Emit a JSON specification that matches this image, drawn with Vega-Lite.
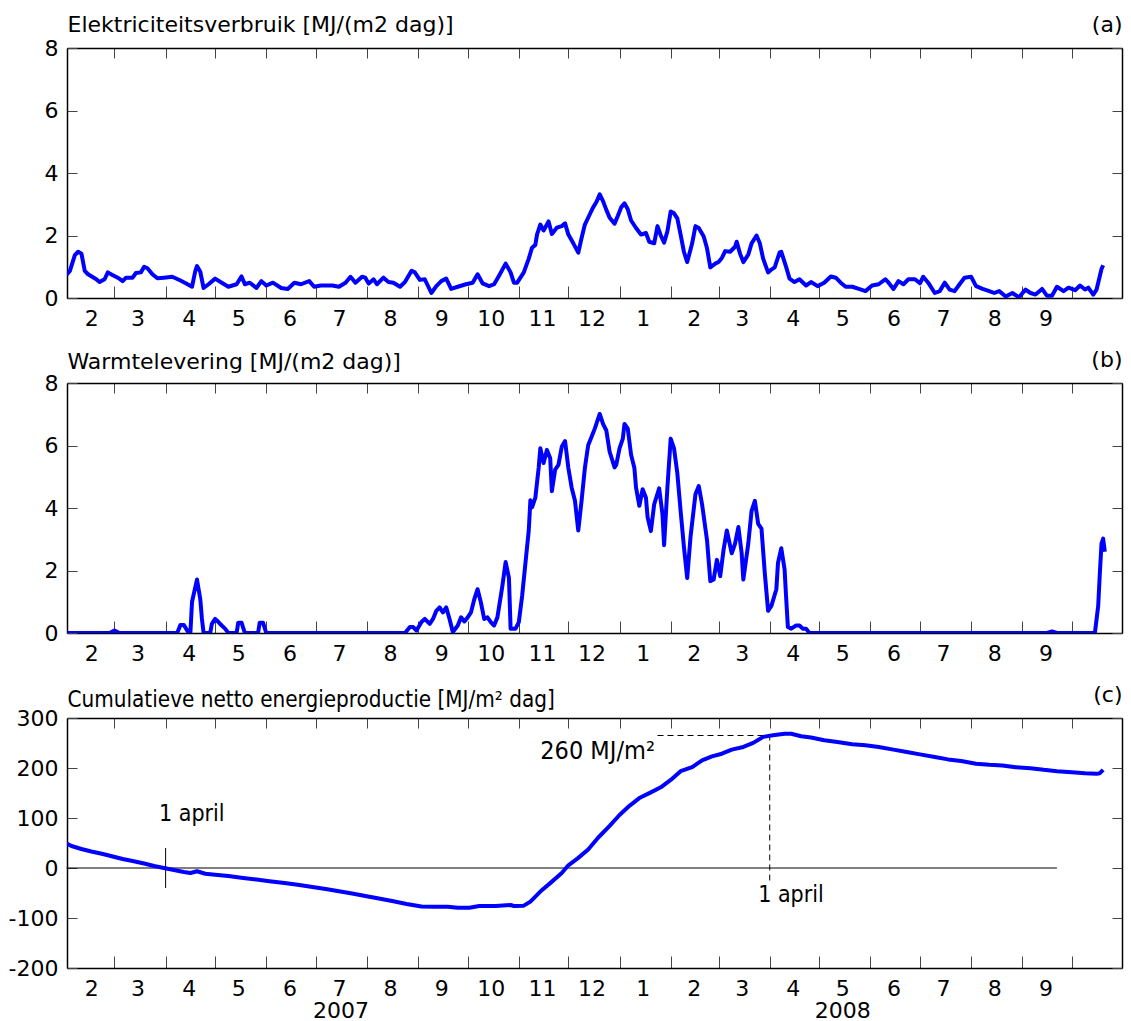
{
  "$schema": "https://vega.github.io/schema/vega-lite/v6.json",
  "padding": {"left": 8, "top": 13, "right": 6, "bottom": 0},
  "background": "white",
  "config": {
    "view": {"stroke": null},
    "axis": {
      "labelFont": "DejaVu Sans", "labelFontSize": 22, "labelColor": "black",
      "titleFont": "DejaVu Sans", "titleFontSize": 22, "titleFontWeight": "normal", "titleColor": "black",
      "domainColor": "black", "domainWidth": 1.5, "tickColor": "#444", "tickWidth": 1,
      "grid": false, "labelFlush": false, "labelOverlap": false, "labelBound": false
    }
  },
  "datasets": {
    "elek": [
      {"date":"2007-01-31","value":0.75},{"date":"2007-02-02","value":0.87},{"date":"2007-02-05","value":1.37},{"date":"2007-02-07","value":1.48},{"date":"2007-02-09","value":1.42},{"date":"2007-02-11","value":0.87},{"date":"2007-02-13","value":0.76},{"date":"2007-02-18","value":0.6},{"date":"2007-02-20","value":0.51},{"date":"2007-02-23","value":0.6},{"date":"2007-02-25","value":0.82},{"date":"2007-02-28","value":0.73},{"date":"2007-03-03","value":0.65},{"date":"2007-03-06","value":0.54},{"date":"2007-03-08","value":0.65},{"date":"2007-03-12","value":0.65},{"date":"2007-03-14","value":0.8},{"date":"2007-03-17","value":0.82},{"date":"2007-03-19","value":1.0},{"date":"2007-03-21","value":0.95},{"date":"2007-03-24","value":0.76},{"date":"2007-03-27","value":0.63},{"date":"2007-03-31","value":0.65},{"date":"2007-04-05","value":0.68},{"date":"2007-04-10","value":0.56},{"date":"2007-04-14","value":0.45},{"date":"2007-04-17","value":0.36},{"date":"2007-04-19","value":0.87},{"date":"2007-04-20","value":1.02},{"date":"2007-04-22","value":0.84},{"date":"2007-04-24","value":0.32},{"date":"2007-04-27","value":0.44},{"date":"2007-05-01","value":0.62},{"date":"2007-05-05","value":0.49},{"date":"2007-05-09","value":0.36},{"date":"2007-05-14","value":0.44},{"date":"2007-05-17","value":0.69},{"date":"2007-05-19","value":0.44},{"date":"2007-05-22","value":0.49},{"date":"2007-05-26","value":0.32},{"date":"2007-05-29","value":0.54},{"date":"2007-06-01","value":0.4},{"date":"2007-06-05","value":0.49},{"date":"2007-06-10","value":0.32},{"date":"2007-06-14","value":0.29},{"date":"2007-06-18","value":0.49},{"date":"2007-06-22","value":0.44},{"date":"2007-06-27","value":0.54},{"date":"2007-06-30","value":0.36},{"date":"2007-07-04","value":0.4},{"date":"2007-07-11","value":0.4},{"date":"2007-07-15","value":0.36},{"date":"2007-07-19","value":0.49},{"date":"2007-07-22","value":0.68},{"date":"2007-07-25","value":0.49},{"date":"2007-07-29","value":0.68},{"date":"2007-07-31","value":0.65},{"date":"2007-08-02","value":0.46},{"date":"2007-08-05","value":0.6},{"date":"2007-08-07","value":0.44},{"date":"2007-08-11","value":0.65},{"date":"2007-08-14","value":0.51},{"date":"2007-08-17","value":0.49},{"date":"2007-08-21","value":0.36},{"date":"2007-08-24","value":0.51},{"date":"2007-08-28","value":0.87},{"date":"2007-08-30","value":0.82},{"date":"2007-09-02","value":0.58},{"date":"2007-09-05","value":0.6},{"date":"2007-09-09","value":0.16},{"date":"2007-09-12","value":0.38},{"date":"2007-09-15","value":0.54},{"date":"2007-09-18","value":0.62},{"date":"2007-09-21","value":0.29},{"date":"2007-09-25","value":0.36},{"date":"2007-09-30","value":0.44},{"date":"2007-10-04","value":0.49},{"date":"2007-10-07","value":0.76},{"date":"2007-10-10","value":0.47},{"date":"2007-10-14","value":0.38},{"date":"2007-10-17","value":0.44},{"date":"2007-10-20","value":0.71},{"date":"2007-10-24","value":1.1},{"date":"2007-10-27","value":0.82},{"date":"2007-10-29","value":0.49},{"date":"2007-10-31","value":0.49},{"date":"2007-11-04","value":0.82},{"date":"2007-11-07","value":1.26},{"date":"2007-11-09","value":1.61},{"date":"2007-11-11","value":1.7},{"date":"2007-11-12","value":2.03},{"date":"2007-11-14","value":2.35},{"date":"2007-11-16","value":2.16},{"date":"2007-11-19","value":2.45},{"date":"2007-11-21","value":2.05},{"date":"2007-11-24","value":2.25},{"date":"2007-11-27","value":2.3},{"date":"2007-11-29","value":2.39},{"date":"2007-12-01","value":2.03},{"date":"2007-12-04","value":1.75},{"date":"2007-12-07","value":1.45},{"date":"2007-12-09","value":1.92},{"date":"2007-12-11","value":2.35},{"date":"2007-12-14","value":2.68},{"date":"2007-12-16","value":2.9},{"date":"2007-12-18","value":3.07},{"date":"2007-12-20","value":3.32},{"date":"2007-12-22","value":3.1},{"date":"2007-12-24","value":2.82},{"date":"2007-12-26","value":2.57},{"date":"2007-12-29","value":2.38},{"date":"2007-12-31","value":2.63},{"date":"2008-01-02","value":2.9},{"date":"2008-01-04","value":3.03},{"date":"2008-01-06","value":2.84},{"date":"2008-01-08","value":2.48},{"date":"2008-01-11","value":2.24},{"date":"2008-01-14","value":2.03},{"date":"2008-01-17","value":2.08},{"date":"2008-01-19","value":1.8},{"date":"2008-01-22","value":1.75},{"date":"2008-01-24","value":2.3},{"date":"2008-01-26","value":2.0},{"date":"2008-01-28","value":1.77},{"date":"2008-01-30","value":2.13},{"date":"2008-02-01","value":2.77},{"date":"2008-02-03","value":2.71},{"date":"2008-02-05","value":2.55},{"date":"2008-02-07","value":2.03},{"date":"2008-02-09","value":1.48},{"date":"2008-02-11","value":1.15},{"date":"2008-02-14","value":1.75},{"date":"2008-02-16","value":2.3},{"date":"2008-02-18","value":2.24},{"date":"2008-02-21","value":1.97},{"date":"2008-02-23","value":1.59},{"date":"2008-02-25","value":0.98},{"date":"2008-02-28","value":1.1},{"date":"2008-03-01","value":1.15},{"date":"2008-03-03","value":1.28},{"date":"2008-03-05","value":1.5},{"date":"2008-03-08","value":1.48},{"date":"2008-03-11","value":1.64},{"date":"2008-03-12","value":1.8},{"date":"2008-03-14","value":1.42},{"date":"2008-03-16","value":1.15},{"date":"2008-03-19","value":1.39},{"date":"2008-03-21","value":1.75},{"date":"2008-03-24","value":2.0},{"date":"2008-03-26","value":1.75},{"date":"2008-03-28","value":1.26},{"date":"2008-03-31","value":0.82},{"date":"2008-04-02","value":0.91},{"date":"2008-04-04","value":0.98},{"date":"2008-04-07","value":1.46},{"date":"2008-04-08","value":1.48},{"date":"2008-04-11","value":0.98},{"date":"2008-04-13","value":0.62},{"date":"2008-04-16","value":0.51},{"date":"2008-04-19","value":0.6},{"date":"2008-04-23","value":0.4},{"date":"2008-04-26","value":0.51},{"date":"2008-04-30","value":0.38},{"date":"2008-05-04","value":0.49},{"date":"2008-05-08","value":0.69},{"date":"2008-05-11","value":0.65},{"date":"2008-05-14","value":0.49},{"date":"2008-05-17","value":0.36},{"date":"2008-05-21","value":0.36},{"date":"2008-05-25","value":0.29},{"date":"2008-05-29","value":0.22},{"date":"2008-06-02","value":0.4},{"date":"2008-06-06","value":0.44},{"date":"2008-06-10","value":0.6},{"date":"2008-06-12","value":0.49},{"date":"2008-06-15","value":0.29},{"date":"2008-06-18","value":0.54},{"date":"2008-06-21","value":0.44},{"date":"2008-06-24","value":0.6},{"date":"2008-06-28","value":0.6},{"date":"2008-07-01","value":0.47},{"date":"2008-07-03","value":0.68},{"date":"2008-07-06","value":0.49},{"date":"2008-07-10","value":0.16},{"date":"2008-07-13","value":0.22},{"date":"2008-07-16","value":0.49},{"date":"2008-07-19","value":0.27},{"date":"2008-07-22","value":0.22},{"date":"2008-07-25","value":0.44},{"date":"2008-07-28","value":0.65},{"date":"2008-08-01","value":0.68},{"date":"2008-08-04","value":0.38},{"date":"2008-08-08","value":0.29},{"date":"2008-08-12","value":0.22},{"date":"2008-08-15","value":0.16},{"date":"2008-08-18","value":0.22},{"date":"2008-08-22","value":0.05},{"date":"2008-08-26","value":0.16},{"date":"2008-08-30","value":0.02},{"date":"2008-09-03","value":0.27},{"date":"2008-09-06","value":0.16},{"date":"2008-09-09","value":0.11},{"date":"2008-09-13","value":0.29},{"date":"2008-09-16","value":0.07},{"date":"2008-09-19","value":0.07},{"date":"2008-09-22","value":0.36},{"date":"2008-09-26","value":0.22},{"date":"2008-09-29","value":0.33},{"date":"2008-10-03","value":0.25},{"date":"2008-10-06","value":0.4},{"date":"2008-10-09","value":0.27},{"date":"2008-10-11","value":0.33},{"date":"2008-10-14","value":0.11},{"date":"2008-10-16","value":0.27},{"date":"2008-10-19","value":0.93},{"date":"2008-10-20","value":1.05}
    ],
    "warmte": [
      {"date":"2007-01-31","value":0},{"date":"2007-02-26","value":0},{"date":"2007-03-01","value":0.08},{"date":"2007-03-04","value":0},{"date":"2007-04-08","value":0},{"date":"2007-04-10","value":0.26},{"date":"2007-04-12","value":0.26},{"date":"2007-04-15","value":0},{"date":"2007-04-16","value":0},{"date":"2007-04-17","value":1.0},{"date":"2007-04-20","value":1.71},{"date":"2007-04-22","value":1.08},{"date":"2007-04-23","value":0.45},{"date":"2007-04-24","value":0},{"date":"2007-04-28","value":0},{"date":"2007-04-29","value":0.29},{"date":"2007-05-01","value":0.45},{"date":"2007-05-03","value":0.35},{"date":"2007-05-05","value":0.24},{"date":"2007-05-07","value":0.14},{"date":"2007-05-09","value":0},{"date":"2007-05-14","value":0},{"date":"2007-05-15","value":0.33},{"date":"2007-05-17","value":0.33},{"date":"2007-05-19","value":0},{"date":"2007-05-27","value":0},{"date":"2007-05-28","value":0.33},{"date":"2007-05-30","value":0.33},{"date":"2007-06-01","value":0},{"date":"2007-08-24","value":0},{"date":"2007-08-27","value":0.19},{"date":"2007-08-29","value":0.19},{"date":"2007-08-31","value":0.08},{"date":"2007-09-03","value":0.35},{"date":"2007-09-05","value":0.45},{"date":"2007-09-08","value":0.29},{"date":"2007-09-10","value":0.45},{"date":"2007-09-12","value":0.71},{"date":"2007-09-14","value":0.82},{"date":"2007-09-16","value":0.66},{"date":"2007-09-18","value":0.82},{"date":"2007-09-20","value":0.45},{"date":"2007-09-22","value":0.03},{"date":"2007-09-25","value":0.24},{"date":"2007-09-27","value":0.5},{"date":"2007-09-29","value":0.37},{"date":"2007-10-01","value":0.5},{"date":"2007-10-03","value":0.66},{"date":"2007-10-05","value":1.08},{"date":"2007-10-07","value":1.4},{"date":"2007-10-09","value":0.98},{"date":"2007-10-11","value":0.45},{"date":"2007-10-13","value":0.5},{"date":"2007-10-15","value":0.35},{"date":"2007-10-17","value":0.24},{"date":"2007-10-19","value":0.5},{"date":"2007-10-22","value":1.5},{"date":"2007-10-24","value":2.27},{"date":"2007-10-26","value":1.76},{"date":"2007-10-27","value":0.14},{"date":"2007-10-30","value":0.14},{"date":"2007-11-01","value":0.35},{"date":"2007-11-03","value":1.19},{"date":"2007-11-05","value":2.24},{"date":"2007-11-07","value":3.28},{"date":"2007-11-08","value":4.25},{"date":"2007-11-09","value":4.02},{"date":"2007-11-11","value":4.33},{"date":"2007-11-13","value":5.28},{"date":"2007-11-14","value":5.91},{"date":"2007-11-16","value":5.44},{"date":"2007-11-18","value":5.86},{"date":"2007-11-20","value":5.59},{"date":"2007-11-21","value":4.54},{"date":"2007-11-23","value":5.23},{"date":"2007-11-25","value":5.38},{"date":"2007-11-27","value":5.96},{"date":"2007-11-29","value":6.14},{"date":"2007-12-01","value":5.28},{"date":"2007-12-03","value":4.65},{"date":"2007-12-05","value":4.23},{"date":"2007-12-07","value":3.28},{"date":"2007-12-09","value":4.23},{"date":"2007-12-11","value":5.28},{"date":"2007-12-13","value":6.01},{"date":"2007-12-15","value":6.27},{"date":"2007-12-17","value":6.54},{"date":"2007-12-20","value":7.01},{"date":"2007-12-22","value":6.69},{"date":"2007-12-24","value":6.48},{"date":"2007-12-26","value":5.8},{"date":"2007-12-29","value":5.3},{"date":"2007-12-30","value":5.38},{"date":"2008-01-01","value":5.91},{"date":"2008-01-03","value":6.22},{"date":"2008-01-04","value":6.69},{"date":"2008-01-06","value":6.54},{"date":"2008-01-08","value":5.7},{"date":"2008-01-10","value":5.28},{"date":"2008-01-11","value":4.65},{"date":"2008-01-13","value":4.07},{"date":"2008-01-15","value":4.6},{"date":"2008-01-17","value":4.33},{"date":"2008-01-18","value":3.7},{"date":"2008-01-20","value":3.26},{"date":"2008-01-22","value":4.12},{"date":"2008-01-25","value":4.63},{"date":"2008-01-27","value":3.81},{"date":"2008-01-28","value":2.81},{"date":"2008-01-30","value":4.65},{"date":"2008-02-01","value":6.22},{"date":"2008-02-03","value":5.91},{"date":"2008-02-05","value":5.12},{"date":"2008-02-07","value":3.91},{"date":"2008-02-09","value":2.76},{"date":"2008-02-11","value":1.76},{"date":"2008-02-13","value":3.07},{"date":"2008-02-16","value":4.44},{"date":"2008-02-18","value":4.7},{"date":"2008-02-20","value":4.12},{"date":"2008-02-23","value":2.97},{"date":"2008-02-25","value":1.66},{"date":"2008-02-27","value":1.71},{"date":"2008-02-29","value":2.34},{"date":"2008-03-02","value":1.82},{"date":"2008-03-04","value":2.65},{"date":"2008-03-06","value":3.28},{"date":"2008-03-09","value":2.55},{"date":"2008-03-11","value":2.86},{"date":"2008-03-13","value":3.39},{"date":"2008-03-15","value":2.55},{"date":"2008-03-16","value":1.71},{"date":"2008-03-19","value":2.86},{"date":"2008-03-21","value":3.91},{"date":"2008-03-23","value":4.23},{"date":"2008-03-25","value":3.49},{"date":"2008-03-27","value":3.34},{"date":"2008-03-29","value":1.92},{"date":"2008-03-31","value":0.71},{"date":"2008-04-02","value":0.87},{"date":"2008-04-05","value":1.4},{"date":"2008-04-06","value":2.24},{"date":"2008-04-08","value":2.71},{"date":"2008-04-10","value":2.03},{"date":"2008-04-11","value":1.08},{"date":"2008-04-12","value":0.19},{"date":"2008-04-14","value":0.14},{"date":"2008-04-17","value":0.24},{"date":"2008-04-19","value":0.24},{"date":"2008-04-21","value":0.14},{"date":"2008-04-23","value":0.14},{"date":"2008-04-25","value":0},{"date":"2008-09-16","value":0},{"date":"2008-09-19","value":0.05},{"date":"2008-09-22","value":0},{"date":"2008-10-15","value":0},{"date":"2008-10-17","value":0.87},{"date":"2008-10-18","value":1.92},{"date":"2008-10-19","value":2.86},{"date":"2008-10-20","value":3.02},{"date":"2008-10-21","value":2.6}
    ],
    "cumulatief": [
      {"date":"2007-01-31","value":49},{"date":"2007-02-03","value":44},{"date":"2007-02-09","value":38},{"date":"2007-02-15","value":33},{"date":"2007-02-22","value":28},{"date":"2007-02-28","value":23},{"date":"2007-03-06","value":18},{"date":"2007-03-12","value":14},{"date":"2007-03-19","value":9},{"date":"2007-03-25","value":4},{"date":"2007-03-31","value":0},{"date":"2007-04-06","value":-4},{"date":"2007-04-12","value":-8},{"date":"2007-04-16","value":-10},{"date":"2007-04-20","value":-6.5},{"date":"2007-04-25","value":-11.5},{"date":"2007-05-01","value":-13.5},{"date":"2007-05-09","value":-16},{"date":"2007-05-18","value":-20},{"date":"2007-05-26","value":-23},{"date":"2007-06-03","value":-26.5},{"date":"2007-06-12","value":-30},{"date":"2007-06-20","value":-33.5},{"date":"2007-06-27","value":-37},{"date":"2007-07-07","value":-42},{"date":"2007-07-15","value":-46.5},{"date":"2007-07-23","value":-51},{"date":"2007-07-31","value":-56},{"date":"2007-08-09","value":-61.5},{"date":"2007-08-17","value":-66.5},{"date":"2007-08-25","value":-72},{"date":"2007-09-03","value":-77},{"date":"2007-09-11","value":-77.3},{"date":"2007-09-19","value":-77.3},{"date":"2007-09-25","value":-79.4},{"date":"2007-10-02","value":-79.4},{"date":"2007-10-08","value":-76},{"date":"2007-10-18","value":-76},{"date":"2007-10-27","value":-74},{"date":"2007-10-29","value":-76},{"date":"2007-11-04","value":-75.3},{"date":"2007-11-08","value":-67.2},{"date":"2007-11-14","value":-47.1},{"date":"2007-11-20","value":-30.3},{"date":"2007-11-27","value":-10.1},{"date":"2007-12-01","value":5.4},{"date":"2007-12-07","value":20.2},{"date":"2007-12-13","value":37},{"date":"2007-12-19","value":60.5},{"date":"2007-12-26","value":84.1},{"date":"2008-01-01","value":106},{"date":"2008-01-07","value":124.4},{"date":"2008-01-13","value":139.9},{"date":"2008-01-20","value":151.3},{"date":"2008-01-26","value":161.4},{"date":"2008-02-01","value":176.2},{"date":"2008-02-07","value":193.7},{"date":"2008-02-14","value":201.7},{"date":"2008-02-20","value":215.2},{"date":"2008-02-26","value":223.3},{"date":"2008-03-03","value":228.6},{"date":"2008-03-09","value":236.7},{"date":"2008-03-16","value":242.1},{"date":"2008-03-22","value":250.2},{"date":"2008-03-28","value":262.3},{"date":"2008-04-03","value":265.6},{"date":"2008-04-10","value":268.5},{"date":"2008-04-14","value":268.5},{"date":"2008-04-20","value":263.6},{"date":"2008-04-26","value":260.9},{"date":"2008-05-04","value":255.5},{"date":"2008-05-12","value":252.2},{"date":"2008-05-21","value":247.5},{"date":"2008-05-29","value":245.5},{"date":"2008-06-06","value":242.1},{"date":"2008-06-15","value":236.7},{"date":"2008-06-23","value":232},{"date":"2008-07-01","value":227.3},{"date":"2008-07-10","value":221.9},{"date":"2008-07-18","value":217.2},{"date":"2008-07-26","value":213.9},{"date":"2008-08-04","value":208.5},{"date":"2008-08-12","value":206.5},{"date":"2008-08-20","value":205.1},{"date":"2008-08-28","value":201.7},{"date":"2008-09-06","value":199.7},{"date":"2008-09-14","value":196.4},{"date":"2008-09-22","value":193.7},{"date":"2008-10-01","value":191.7},{"date":"2008-10-09","value":189.6},{"date":"2008-10-16","value":188.3},{"date":"2008-10-18","value":189.6},{"date":"2008-10-20","value":196.4}
    ],
    "lijnen": [
      {"start":"2007-01-31","end":"2008-09-22","low":0,"high":0},
      {"start":"2007-04-01","end":"2007-04-01","low":-40,"high":40}
    ],
    "stippellijnen": [
      {"start":"2008-04-01","end":"2008-04-01","low":-25,"high":265},
      {"start":"2008-01-24","end":"2008-04-01","low":265,"high":265}
    ],
    "datumteksten": [
      {"date":"2007-03-28","value":94,"label":"1 april"},
      {"date":"2008-03-25","value":-68,"label":"1 april"}
    ],
    "piektekst": [
      {"date":"2007-11-14","value":219,"label":"260 MJ/m²"}
    ]
  },
  "spacing": 85,
  "bounds": "flush",
  "vconcat": [
    {
      "width": 1055, "height": 250,
      "layer": [
        {"data": {"name": "elek"}, "mark": {"type": "line", "opacity": 0},
         "encoding": {
           "x": {"field": "date", "type": "temporal", "scale": {"domain": [{"year":2007,"month":1,"date":31,"hours":6,"utc":true},{"year":2008,"month":10,"date":31,"hours":10,"utc":true}]},
                 "axis": {"orient": "bottom", "values": [{"year":2007,"month":3,"date":1,"utc":true},{"year":2007,"month":4,"date":1,"utc":true},{"year":2007,"month":5,"date":1,"utc":true},{"year":2007,"month":6,"date":1,"utc":true},{"year":2007,"month":7,"date":1,"utc":true},{"year":2007,"month":8,"date":1,"utc":true},{"year":2007,"month":9,"date":1,"utc":true},{"year":2007,"month":10,"date":1,"utc":true},{"year":2007,"month":11,"date":1,"utc":true},{"year":2007,"month":12,"date":1,"utc":true},{"year":2008,"month":1,"date":1,"utc":true},{"year":2008,"month":2,"date":1,"utc":true},{"year":2008,"month":3,"date":1,"utc":true},{"year":2008,"month":4,"date":1,"utc":true},{"year":2008,"month":5,"date":1,"utc":true},{"year":2008,"month":6,"date":1,"utc":true},{"year":2008,"month":7,"date":1,"utc":true},{"year":2008,"month":8,"date":1,"utc":true},{"year":2008,"month":9,"date":1,"utc":true},{"year":2008,"month":10,"date":1,"utc":true}], "tickSize": -12, "labels": false, "title": null}},
           "y": {"field": "value", "type": "quantitative", "scale": {"domain": [0, 8]},
                 "axis": {"orient": "left", "values": [0, 2, 4, 6, 8], "tickSize": -10, "labelPadding": 19, "labelExpr": "datum.value + ''", "title": "Elektriciteitsverbruik [MJ/(m2 dag)]", "titleAngle": 0, "titleX": 0, "titleY": -17, "titleAlign": "left", "titleBaseline": "alphabetic"}}
         }},
        {"data": {"name": "elek"}, "mark": {"type": "line", "opacity": 0},
         "encoding": {
           "x": {"field": "date", "type": "temporal", "scale": {"domain": [{"year":2007,"month":1,"date":31,"hours":6,"utc":true},{"year":2008,"month":10,"date":31,"hours":10,"utc":true}]},
                 "axis": {"orient": "bottom", "values": [{"year":2007,"month":2,"date":15,"utc":true},{"year":2007,"month":3,"date":15,"utc":true},{"year":2007,"month":4,"date":15,"utc":true},{"year":2007,"month":5,"date":15,"utc":true},{"year":2007,"month":6,"date":15,"utc":true},{"year":2007,"month":7,"date":15,"utc":true},{"year":2007,"month":8,"date":15,"utc":true},{"year":2007,"month":9,"date":15,"utc":true},{"year":2007,"month":10,"date":15,"utc":true},{"year":2007,"month":11,"date":15,"utc":true},{"year":2007,"month":12,"date":15,"utc":true},{"year":2008,"month":1,"date":15,"utc":true},{"year":2008,"month":2,"date":15,"utc":true},{"year":2008,"month":3,"date":15,"utc":true},{"year":2008,"month":4,"date":15,"utc":true},{"year":2008,"month":5,"date":15,"utc":true},{"year":2008,"month":6,"date":15,"utc":true},{"year":2008,"month":7,"date":15,"utc":true},{"year":2008,"month":8,"date":15,"utc":true},{"year":2008,"month":9,"date":15,"utc":true}], "ticks": false, "domain": false, "labelPadding": 10, "labelExpr": "utcFormat(datum.value, '%-m')", "title": null}},
           "y": {"field": "value", "type": "quantitative", "scale": {"domain": [0, 8]},
                 "axis": {"orient": "right", "values": [0, 2, 4, 6, 8], "tickSize": -10, "labels": false, "title": null}}
         }},
        {"data": {"name": "elek"}, "mark": {"type": "line", "color": "#0000ff", "strokeWidth": 4, "strokeJoin": "round", "clip": true},
         "encoding": {
           "x": {"field": "date", "type": "temporal", "scale": {"domain": [{"year":2007,"month":1,"date":31,"hours":6,"utc":true},{"year":2008,"month":10,"date":31,"hours":10,"utc":true}]},
                 "axis": {"orient": "top", "values": [{"year":2007,"month":3,"date":1,"utc":true},{"year":2007,"month":4,"date":1,"utc":true},{"year":2007,"month":5,"date":1,"utc":true},{"year":2007,"month":6,"date":1,"utc":true},{"year":2007,"month":7,"date":1,"utc":true},{"year":2007,"month":8,"date":1,"utc":true},{"year":2007,"month":9,"date":1,"utc":true},{"year":2007,"month":10,"date":1,"utc":true},{"year":2007,"month":11,"date":1,"utc":true},{"year":2007,"month":12,"date":1,"utc":true},{"year":2008,"month":1,"date":1,"utc":true},{"year":2008,"month":2,"date":1,"utc":true},{"year":2008,"month":3,"date":1,"utc":true},{"year":2008,"month":4,"date":1,"utc":true},{"year":2008,"month":5,"date":1,"utc":true},{"year":2008,"month":6,"date":1,"utc":true},{"year":2008,"month":7,"date":1,"utc":true},{"year":2008,"month":8,"date":1,"utc":true},{"year":2008,"month":9,"date":1,"utc":true},{"year":2008,"month":10,"date":1,"utc":true}], "tickSize": -10, "labels": false, "title": "(a)", "titleX": 1055, "titleY": -17, "titleAlign": "right", "titleBaseline": "alphabetic", "titleAngle": 0}},
           "y": {"field": "value", "type": "quantitative", "scale": {"domain": [0, 8]}, "axis": null}
         }}
      ],
      "resolve": {"axis": {"x": "independent", "y": "independent"}}
    },
    {
      "width": 1055, "height": 250,
      "layer": [
        {"data": {"name": "warmte"}, "mark": {"type": "line", "opacity": 0},
         "encoding": {
           "x": {"field": "date", "type": "temporal", "scale": {"domain": [{"year":2007,"month":1,"date":31,"hours":6,"utc":true},{"year":2008,"month":10,"date":31,"hours":10,"utc":true}]},
                 "axis": {"orient": "bottom", "values": [{"year":2007,"month":3,"date":1,"utc":true},{"year":2007,"month":4,"date":1,"utc":true},{"year":2007,"month":5,"date":1,"utc":true},{"year":2007,"month":6,"date":1,"utc":true},{"year":2007,"month":7,"date":1,"utc":true},{"year":2007,"month":8,"date":1,"utc":true},{"year":2007,"month":9,"date":1,"utc":true},{"year":2007,"month":10,"date":1,"utc":true},{"year":2007,"month":11,"date":1,"utc":true},{"year":2007,"month":12,"date":1,"utc":true},{"year":2008,"month":1,"date":1,"utc":true},{"year":2008,"month":2,"date":1,"utc":true},{"year":2008,"month":3,"date":1,"utc":true},{"year":2008,"month":4,"date":1,"utc":true},{"year":2008,"month":5,"date":1,"utc":true},{"year":2008,"month":6,"date":1,"utc":true},{"year":2008,"month":7,"date":1,"utc":true},{"year":2008,"month":8,"date":1,"utc":true},{"year":2008,"month":9,"date":1,"utc":true},{"year":2008,"month":10,"date":1,"utc":true}], "tickSize": -12, "labels": false, "title": null}},
           "y": {"field": "value", "type": "quantitative", "scale": {"domain": [0, 8]},
                 "axis": {"orient": "left", "values": [0, 2, 4, 6, 8], "tickSize": -10, "labelPadding": 19, "labelExpr": "datum.value + ''", "title": "Warmtelevering [MJ/(m2 dag)]", "titleAngle": 0, "titleX": 0, "titleY": -15, "titleAlign": "left", "titleBaseline": "alphabetic"}}
         }},
        {"data": {"name": "warmte"}, "mark": {"type": "line", "opacity": 0},
         "encoding": {
           "x": {"field": "date", "type": "temporal", "scale": {"domain": [{"year":2007,"month":1,"date":31,"hours":6,"utc":true},{"year":2008,"month":10,"date":31,"hours":10,"utc":true}]},
                 "axis": {"orient": "bottom", "values": [{"year":2007,"month":2,"date":15,"utc":true},{"year":2007,"month":3,"date":15,"utc":true},{"year":2007,"month":4,"date":15,"utc":true},{"year":2007,"month":5,"date":15,"utc":true},{"year":2007,"month":6,"date":15,"utc":true},{"year":2007,"month":7,"date":15,"utc":true},{"year":2007,"month":8,"date":15,"utc":true},{"year":2007,"month":9,"date":15,"utc":true},{"year":2007,"month":10,"date":15,"utc":true},{"year":2007,"month":11,"date":15,"utc":true},{"year":2007,"month":12,"date":15,"utc":true},{"year":2008,"month":1,"date":15,"utc":true},{"year":2008,"month":2,"date":15,"utc":true},{"year":2008,"month":3,"date":15,"utc":true},{"year":2008,"month":4,"date":15,"utc":true},{"year":2008,"month":5,"date":15,"utc":true},{"year":2008,"month":6,"date":15,"utc":true},{"year":2008,"month":7,"date":15,"utc":true},{"year":2008,"month":8,"date":15,"utc":true},{"year":2008,"month":9,"date":15,"utc":true}], "ticks": false, "domain": false, "labelPadding": 10, "labelExpr": "utcFormat(datum.value, '%-m')", "title": null}},
           "y": {"field": "value", "type": "quantitative", "scale": {"domain": [0, 8]},
                 "axis": {"orient": "right", "values": [0, 2, 4, 6, 8], "tickSize": -10, "labels": false, "title": null}}
         }},
        {"data": {"name": "warmte"}, "mark": {"type": "line", "color": "#0000ff", "strokeWidth": 4, "strokeJoin": "round", "clip": true},
         "encoding": {
           "x": {"field": "date", "type": "temporal", "scale": {"domain": [{"year":2007,"month":1,"date":31,"hours":6,"utc":true},{"year":2008,"month":10,"date":31,"hours":10,"utc":true}]},
                 "axis": {"orient": "top", "values": [{"year":2007,"month":3,"date":1,"utc":true},{"year":2007,"month":4,"date":1,"utc":true},{"year":2007,"month":5,"date":1,"utc":true},{"year":2007,"month":6,"date":1,"utc":true},{"year":2007,"month":7,"date":1,"utc":true},{"year":2007,"month":8,"date":1,"utc":true},{"year":2007,"month":9,"date":1,"utc":true},{"year":2007,"month":10,"date":1,"utc":true},{"year":2007,"month":11,"date":1,"utc":true},{"year":2007,"month":12,"date":1,"utc":true},{"year":2008,"month":1,"date":1,"utc":true},{"year":2008,"month":2,"date":1,"utc":true},{"year":2008,"month":3,"date":1,"utc":true},{"year":2008,"month":4,"date":1,"utc":true},{"year":2008,"month":5,"date":1,"utc":true},{"year":2008,"month":6,"date":1,"utc":true},{"year":2008,"month":7,"date":1,"utc":true},{"year":2008,"month":8,"date":1,"utc":true},{"year":2008,"month":9,"date":1,"utc":true},{"year":2008,"month":10,"date":1,"utc":true}], "tickSize": -10, "labels": false, "title": "(b)", "titleX": 1055, "titleY": -17, "titleAlign": "right", "titleBaseline": "alphabetic", "titleAngle": 0}},
           "y": {"field": "value", "type": "quantitative", "scale": {"domain": [0, 8]}, "axis": null}
         }}
      ],
      "resolve": {"axis": {"x": "independent", "y": "independent"}}
    },
    {
      "width": 1055, "height": 250,
      "layer": [
        {"data": {"name": "lijnen"}, "mark": {"type": "rule", "color": "black", "strokeWidth": 1},
         "encoding": {
           "x": {"field": "start", "type": "temporal", "scale": {"domain": [{"year":2007,"month":1,"date":31,"hours":6,"utc":true},{"year":2008,"month":10,"date":31,"hours":10,"utc":true}]},
                 "axis": {"orient": "bottom", "values": [{"year":2007,"month":3,"date":1,"utc":true},{"year":2007,"month":4,"date":1,"utc":true},{"year":2007,"month":5,"date":1,"utc":true},{"year":2007,"month":6,"date":1,"utc":true},{"year":2007,"month":7,"date":1,"utc":true},{"year":2007,"month":8,"date":1,"utc":true},{"year":2007,"month":9,"date":1,"utc":true},{"year":2007,"month":10,"date":1,"utc":true},{"year":2007,"month":11,"date":1,"utc":true},{"year":2007,"month":12,"date":1,"utc":true},{"year":2008,"month":1,"date":1,"utc":true},{"year":2008,"month":2,"date":1,"utc":true},{"year":2008,"month":3,"date":1,"utc":true},{"year":2008,"month":4,"date":1,"utc":true},{"year":2008,"month":5,"date":1,"utc":true},{"year":2008,"month":6,"date":1,"utc":true},{"year":2008,"month":7,"date":1,"utc":true},{"year":2008,"month":8,"date":1,"utc":true},{"year":2008,"month":9,"date":1,"utc":true},{"year":2008,"month":10,"date":1,"utc":true}], "tickSize": -12, "labels": false, "title": null}},
           "x2": {"field": "end"},
           "y": {"field": "low", "type": "quantitative", "scale": {"domain": [-200, 300]},
                 "axis": {"orient": "left", "values": [-200, -100, 0, 100, 200, 300], "tickSize": -10, "labelPadding": 19, "labelExpr": "datum.value + ''", "title": "Cumulatieve netto energieproductie [MJ/m² dag]", "titleFont": "Liberation Sans Narrow, DejaVu Sans Condensed, Arial Narrow, sans-serif", "titleFontSize": 22.3, "titleAngle": 0, "titleX": 0, "titleY": -12, "titleAlign": "left", "titleBaseline": "alphabetic"}},
           "y2": {"field": "high"}
         }},
        {"data": {"name": "stippellijnen"}, "mark": {"type": "rule", "color": "black", "strokeWidth": 1, "strokeDash": [6, 4]},
         "encoding": {
           "x": {"field": "start", "type": "temporal", "scale": {"domain": [{"year":2007,"month":1,"date":31,"hours":6,"utc":true},{"year":2008,"month":10,"date":31,"hours":10,"utc":true}]},
                 "axis": {"orient": "bottom", "values": [{"year":2007,"month":2,"date":15,"utc":true},{"year":2007,"month":3,"date":15,"utc":true},{"year":2007,"month":4,"date":15,"utc":true},{"year":2007,"month":5,"date":15,"utc":true},{"year":2007,"month":6,"date":15,"utc":true},{"year":2007,"month":7,"date":15,"utc":true},{"year":2007,"month":8,"date":15,"utc":true},{"year":2007,"month":9,"date":15,"utc":true},{"year":2007,"month":10,"date":15,"utc":true},{"year":2007,"month":11,"date":15,"utc":true},{"year":2007,"month":12,"date":15,"utc":true},{"year":2008,"month":1,"date":15,"utc":true},{"year":2008,"month":2,"date":15,"utc":true},{"year":2008,"month":3,"date":15,"utc":true},{"year":2008,"month":4,"date":15,"utc":true},{"year":2008,"month":5,"date":15,"utc":true},{"year":2008,"month":6,"date":15,"utc":true},{"year":2008,"month":7,"date":15,"utc":true},{"year":2008,"month":8,"date":15,"utc":true},{"year":2008,"month":9,"date":15,"utc":true}], "ticks": false, "domain": false, "labelPadding": 10, "labelExpr": "utcFormat(datum.value, '%-m')", "title": null}},
           "x2": {"field": "end"},
           "y": {"field": "low", "type": "quantitative", "scale": {"domain": [-200, 300]},
                 "axis": {"orient": "right", "values": [-200, -100, 0, 100, 200, 300], "tickSize": -10, "labels": false, "title": null}},
           "y2": {"field": "high"}
         }},
        {"data": {"name": "datumteksten"}, "mark": {"type": "text", "align": "left", "baseline": "alphabetic", "font": "Liberation Sans Narrow, DejaVu Sans Condensed, Arial Narrow, sans-serif", "fontSize": 23, "color": "black"},
         "encoding": {
           "x": {"field": "date", "type": "temporal", "scale": {"domain": [{"year":2007,"month":1,"date":31,"hours":6,"utc":true},{"year":2008,"month":10,"date":31,"hours":10,"utc":true}]},
                 "axis": {"orient": "top", "values": [{"year":2007,"month":3,"date":1,"utc":true},{"year":2007,"month":4,"date":1,"utc":true},{"year":2007,"month":5,"date":1,"utc":true},{"year":2007,"month":6,"date":1,"utc":true},{"year":2007,"month":7,"date":1,"utc":true},{"year":2007,"month":8,"date":1,"utc":true},{"year":2007,"month":9,"date":1,"utc":true},{"year":2007,"month":10,"date":1,"utc":true},{"year":2007,"month":11,"date":1,"utc":true},{"year":2007,"month":12,"date":1,"utc":true},{"year":2008,"month":1,"date":1,"utc":true},{"year":2008,"month":2,"date":1,"utc":true},{"year":2008,"month":3,"date":1,"utc":true},{"year":2008,"month":4,"date":1,"utc":true},{"year":2008,"month":5,"date":1,"utc":true},{"year":2008,"month":6,"date":1,"utc":true},{"year":2008,"month":7,"date":1,"utc":true},{"year":2008,"month":8,"date":1,"utc":true},{"year":2008,"month":9,"date":1,"utc":true},{"year":2008,"month":10,"date":1,"utc":true}], "tickSize": -10, "labels": false, "title": "(c)", "titleX": 1055, "titleY": -17, "titleAlign": "right", "titleBaseline": "alphabetic", "titleAngle": 0}},
           "y": {"field": "value", "type": "quantitative", "scale": {"domain": [-200, 300]}, "axis": null},
           "text": {"field": "label"}
         }},
        {"data": {"name": "piektekst"}, "mark": {"type": "text", "align": "left", "baseline": "alphabetic", "font": "Liberation Sans Narrow, DejaVu Sans Condensed, Arial Narrow, sans-serif", "fontSize": 25, "color": "black"},
         "encoding": {
           "x": {"field": "date", "type": "temporal", "scale": {"domain": [{"year":2007,"month":1,"date":31,"hours":6,"utc":true},{"year":2008,"month":10,"date":31,"hours":10,"utc":true}]},
                 "axis": {"orient": "bottom", "values": [{"year":2007,"month":7,"date":16,"utc":true},{"year":2008,"month":5,"date":15,"utc":true}], "ticks": false, "domain": false, "labelPadding": 32, "labelExpr": "utcFormat(datum.value, '%Y')", "title": null}},
           "y": {"field": "value", "type": "quantitative", "scale": {"domain": [-200, 300]}, "axis": null},
           "text": {"field": "label"}
         }},
        {"data": {"name": "cumulatief"}, "mark": {"type": "line", "color": "#0000ff", "strokeWidth": 4, "strokeJoin": "round", "clip": true},
         "encoding": {
           "x": {"field": "date", "type": "temporal", "scale": {"domain": [{"year":2007,"month":1,"date":31,"hours":6,"utc":true},{"year":2008,"month":10,"date":31,"hours":10,"utc":true}]}, "axis": null},
           "y": {"field": "value", "type": "quantitative", "scale": {"domain": [-200, 300]}, "axis": null}
         }}
      ],
      "resolve": {"axis": {"x": "independent", "y": "independent"}}
    }
  ]
}
